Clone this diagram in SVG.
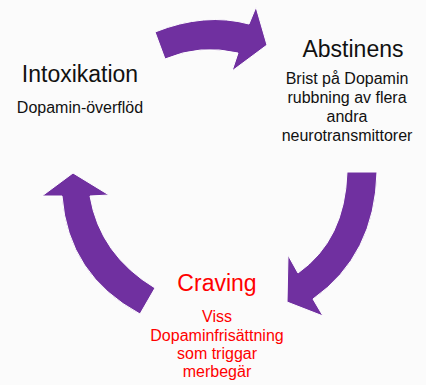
<svg xmlns="http://www.w3.org/2000/svg" width="426" height="385" viewBox="0 0 426 385">
<style>
.arrow{fill:#7030A0;stroke:#ffffff;stroke-width:1}
text{font-family:"Liberation Sans",Arial,sans-serif;text-anchor:middle;fill:#111111}
.title{font-size:23px}
.sub{font-size:16px}
.red{fill:#FF0000}
</style>
<rect width="426" height="385" fill="#FBFBFB"/>
<g id="connectors">
<path class="arrow" d="M155,32 Q205,12 249,24 L256,7 L267,45 L232,71 L238,53 Q200,44 165,59 Z"/>
<path class="arrow" d="M347,172 L377,172 Q375,255 313,299 L323,316 L287,302 L288,255 L298,273 Q345,240 347,172 Z"/>
<path class="arrow" d="M73,173 L109,195 L90,196 Q100,255 155,288 L140,314 Q68,275 62,196 L42,196 Z"/>
</g>
<g id="intoxikation">
<text class="title" x="80" y="82">Intoxikation</text>
<text class="sub" x="80" y="113">Dopamin-överflöd</text>
</g>
<g id="abstinens">
<text class="title" x="353" y="57">Abstinens</text>
<text class="sub" x="347" y="84">Brist på Dopamin</text>
<text class="sub" x="347" y="103">rubbning av flera</text>
<text class="sub" x="347" y="122">andra</text>
<text class="sub" x="347" y="141">neurotransmittorer</text>
</g>
<g id="craving">
<text class="title red" x="217" y="291">Craving</text>
<text class="sub red" x="217" y="322">Viss</text>
<text class="sub red" x="217" y="341">Dopaminfrisättning</text>
<text class="sub red" x="217" y="359">som triggar</text>
<text class="sub red" x="217" y="377">merbegär</text>
</g>
</svg>
